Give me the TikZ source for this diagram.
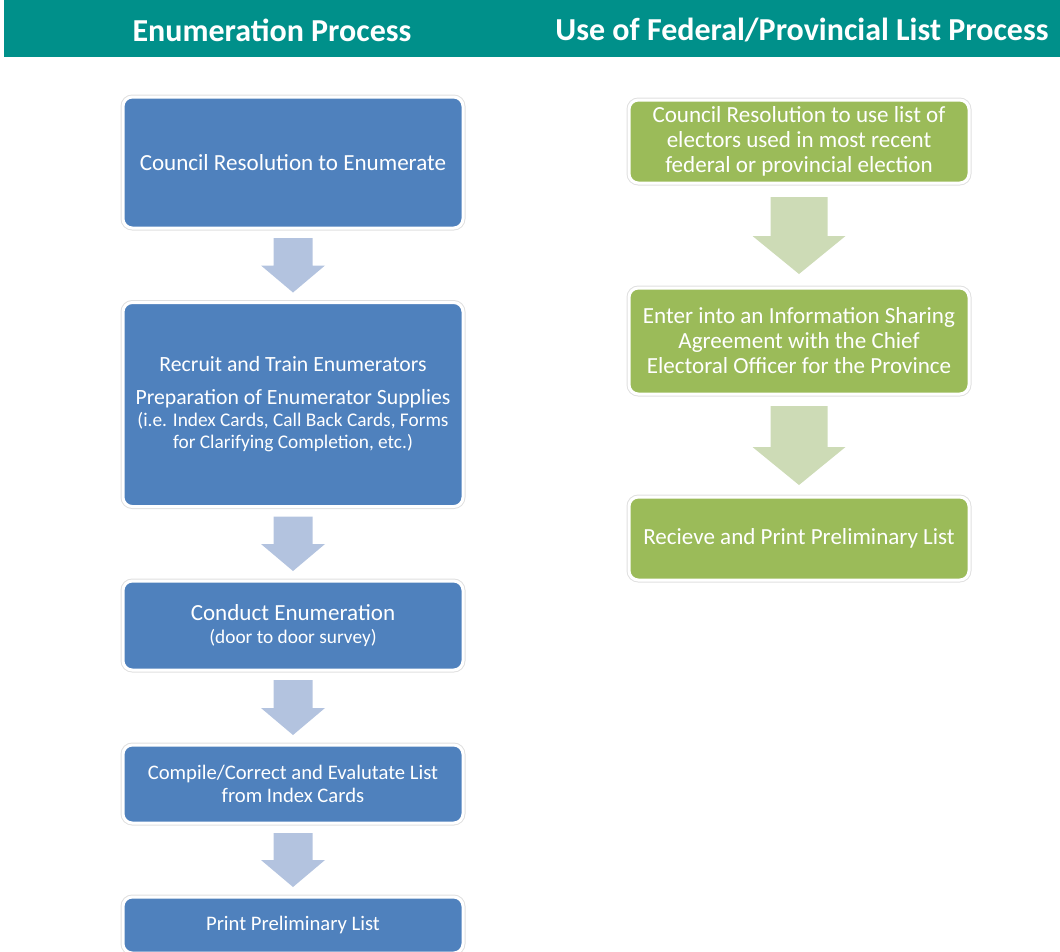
\documentclass[tikz,border=0pt]{standalone}
\usepackage{fontspec}
\setmainfont{Carlito}
\usetikzlibrary{calc}
\definecolor{headteal}{HTML}{00908A}
\definecolor{boxblue}{HTML}{4F81BD}
\definecolor{arrowblue}{HTML}{B3C3DF}
\definecolor{boxgreen}{HTML}{9BBB59}
\definecolor{arrowgreen}{HTML}{CDDBB6}
\newcommand{\smalltxt}{\fontsize{14.5}{16.5}\selectfont}
% block arrow: style, from, to, half shaft, half head, head length, gap
\newcommand{\flowarrow}[7]{%
\fill[#1] ($(#2.south)+(-#4,#7)$) -- ($(#2.south)+(#4,#7)$) -- ($(#3.north)+(#4,-#7-#6)$)
 -- ($(#3.north)+(#5,-#7-#6)$) -- ($(#3.north)+(0,-#7)$) -- ($(#3.north)+(-#5,-#7-#6)$)
 -- ($(#3.north)+(-#4,-#7-#6)$) -- cycle;}
\begin{document}
\begin{tikzpicture}[x=0.75pt,y=-0.75pt]
\tikzstyle{box}=[rounded corners=7pt,minimum width=255pt,align=center,text=white,inner sep=0pt,outer sep=0pt,
  draw=white,line width=2.25pt,preaction={draw=black!12,line width=3.75pt},font=\fontsize{17.3}{18.75}\selectfont]
\tikzstyle{blue}=[box,fill=boxblue]
\tikzstyle{green}=[box,fill=boxgreen]
\tikzstyle{head}=[text=white,font=\fontsize{24}{28}\selectfont\bfseries]
\useasboundingbox (0,0) rectangle (1060,951);
\clip (0,0) rectangle (1060,951);
\fill[headteal] (4,0) rectangle (1060,57);
\node[head](h1) at (272,30) {Enumeration Process};
\node[head](h2) at (802,30) {Use of Federal/Provincial List Process};
% enumeration column
\node[blue,minimum height=98.25pt](l1) at (293,162.5) {Council Resolution to Enumerate};
\node[blue,minimum height=153pt,font=\fontsize{16.3}{16.5}\selectfont](l2) at (293,404.5)
  {Recruit and Train Enumerators\\[8.25pt]
  Preparation of Enumerator Supplies\\ \smalltxt (i.e. Index Cards, Call Back Cards, Forms\\
  \smalltxt for Clarifying Completion, etc.)};
\node[blue,minimum height=66.75pt,font=\fontsize{17.3}{17.25}\selectfont](l3) at (293,625.5)
  {Conduct Enumeration\\ \smalltxt (door to door survey)};
\node[blue,minimum height=58.5pt,font=\fontsize{15.5}{17.25}\selectfont](l4) at (293,784)
  {Compile/Correct and Evalutate List\\ from Index Cards};
\node[blue,minimum height=42pt,font=\fontsize{15.5}{17.25}\selectfont](l5) at (293,925) {Print Preliminary List};
\flowarrow{arrowblue}{l1}{l2}{19.5}{32}{27}{10}
\flowarrow{arrowblue}{l2}{l3}{19.5}{32}{27}{10}
\flowarrow{arrowblue}{l3}{l4}{19.5}{32}{27}{10}
\flowarrow{arrowblue}{l4}{l5}{19.5}{32}{27}{10}
% list column
\node[green,minimum height=62.25pt](r1) at (799,141.5) {Council Resolution to use list of\\
  electors used in most recent\\ federal or provincial election};
\node[green,minimum height=79.5pt](r2) at (799,341) {Enter into an Information Sharing\\
  Agreement with the Chief\\ Electoral Officer for the Province};
\node[green,minimum height=62.25pt](r3) at (799,538.5) {Recieve and Print Preliminary List};
\flowarrow{arrowgreen}{r1}{r2}{28.5}{46.5}{38}{14}
\flowarrow{arrowgreen}{r2}{r3}{28.5}{46.5}{38}{12}
\end{tikzpicture}
\end{document}
